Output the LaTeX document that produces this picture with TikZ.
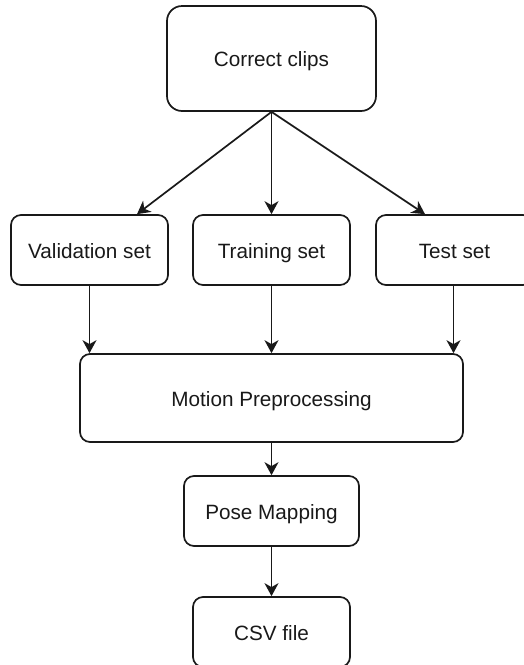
\documentclass[tikz,border=0pt]{standalone}
\usepackage{fontspec}
\setmainfont{Liberation Sans}
\usetikzlibrary{arrows.meta}
\begin{document}
\begin{tikzpicture}[x=1pt,y=-1pt,
  box/.style={draw=black!90, line width=1.7pt, rounded corners=10pt, align=center, inner sep=0pt,
    text height=18pt, text depth=2pt,
    font=\fontsize{20.7}{24}\selectfont, text=black!90},
  conn/.style={draw=black!90, line width=1.7pt, -{Stealth[length=13pt,width=14pt,inset=4pt]}}]
\useasboundingbox (0,0) rectangle (524,665);
\clip (0,0) rectangle (524,665);
\node[box, rounded corners=15pt, minimum width=209pt, minimum height=105pt] (cc) at (271.5,58.5) {Correct clips};
\node[box, minimum width=157pt, minimum height=70pt] (val) at (89.5,250) {Validation set};
\node[box, minimum width=157pt, minimum height=70pt] (tr) at (271.5,250) {Training set};
\node[box, minimum width=157pt, minimum height=70pt] (te) at (454.5,250) {Test set};
\node[box, minimum width=383pt, minimum height=88pt] (mp) at (271.5,398) {Motion Preprocessing};
\node[box, minimum width=175pt, minimum height=70pt] (pm) at (271.5,511) {Pose Mapping};
\node[box, minimum width=157pt, minimum height=70pt] (csv) at (271.5,632) {CSV file};
\draw[conn] (cc.south) -- ([xshift=47.5pt]val.north);
\draw[conn] (cc.south) -- (tr.north);
\draw[conn] (cc.south) -- ([xshift=-29.5pt]te.north);
\draw[conn] (val.south) -- (val.south |- mp.north);
\draw[conn] (tr.south) -- (mp.north);
\draw[conn] ([xshift=-1pt]te.south) -- ([xshift=-1pt]te.south |- mp.north);
\draw[conn] (mp.south) -- (pm.north);
\draw[conn] (pm.south) -- (csv.north);
\end{tikzpicture}
\end{document}
